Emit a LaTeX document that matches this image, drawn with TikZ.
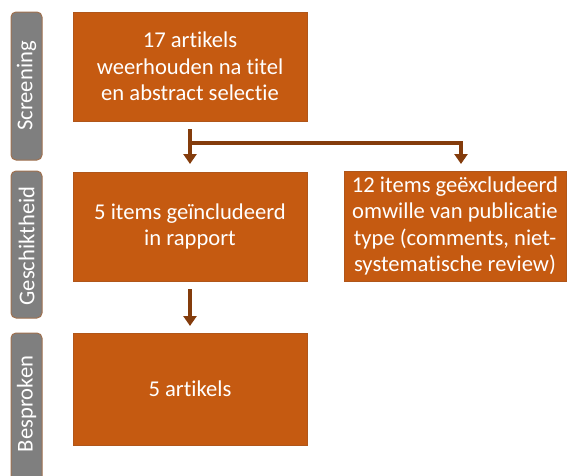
\documentclass[tikz,border=0pt]{standalone}
\usepackage{fontspec}
\setmainfont[Ligatures=NoCommon]{Carlito}
\usetikzlibrary{arrows.meta}
\definecolor{boxfill}{HTML}{C55A11}
\definecolor{boxline}{HTML}{B0561A}
\definecolor{arrowc}{HTML}{843C0C}
\definecolor{tabfill}{HTML}{7F7F7F}
\definecolor{tabline}{HTML}{A0714F}
\tikzset{
  x=1pt,y=-1pt,
  stagebox/.style={draw=boxline,fill=boxfill,line width=0.8pt,text=white,align=center,font=\fontsize{22.6}{26.4}\selectfont,inner sep=0pt},
  tabbox/.style={draw=tabline,fill=tabfill,line width=1pt,rounded corners=5pt},
  tabtext/.style={text=white,rotate=90,font=\fontsize{22.6}{26}\selectfont},
  flow/.style={draw=arrowc,line width=3.5pt,-{Triangle[length=10pt,width=13pt]}},
}
\begin{document}
\begin{tikzpicture}
\useasboundingbox (0,0) rectangle (573,475);
% side tabs
\draw[tabbox] (11,12) rectangle (42,160);
\node[tabtext] (t1) at (26.5,86) {Screening};
\draw[tabbox] (11,171) rectangle (42,318);
\node[tabtext] (t2) at (26.5,246) {Geschiktheid};
\draw[tabbox] (11,333) rectangle (42,482);
\node[tabtext] (t3) at (26.5,404) {Besproken};
% boxes
\node[stagebox,minimum width=234pt,minimum height=109pt] (b1) at (190,66.5) {17 artikels\\weerhouden na titel\\en abstract selectie};
\node[stagebox,minimum width=234pt,minimum height=109pt] (b2) at (190,226.5) {5 items geïncludeerd\\in rapport};
\node[stagebox,minimum width=234pt,minimum height=112pt] (b3) at (190,389) {5 artikels};
\node[stagebox,minimum width=222pt,minimum height=110pt] (b4) at (455,226) {12 items geëxcludeerd\\omwille van publicatie\\type (comments, niet-\\systematische review)};
% connectors
\coordinate (s1) at (190,129);
\coordinate (j1) at (190,143);
\coordinate (e1) at (190,164);
\coordinate (e4) at (461,164);
\draw[draw=arrowc,line width=3.5pt] (s1) -- (j1);
\draw[flow] (j1) -- (e1);
\draw[flow] ([xshift=-1.75pt]j1) -| (e4);
\coordinate (s2) at (190,289);
\coordinate (e2) at (190,326);
\draw[flow] (s2) -- (e2);
\end{tikzpicture}
\end{document}
